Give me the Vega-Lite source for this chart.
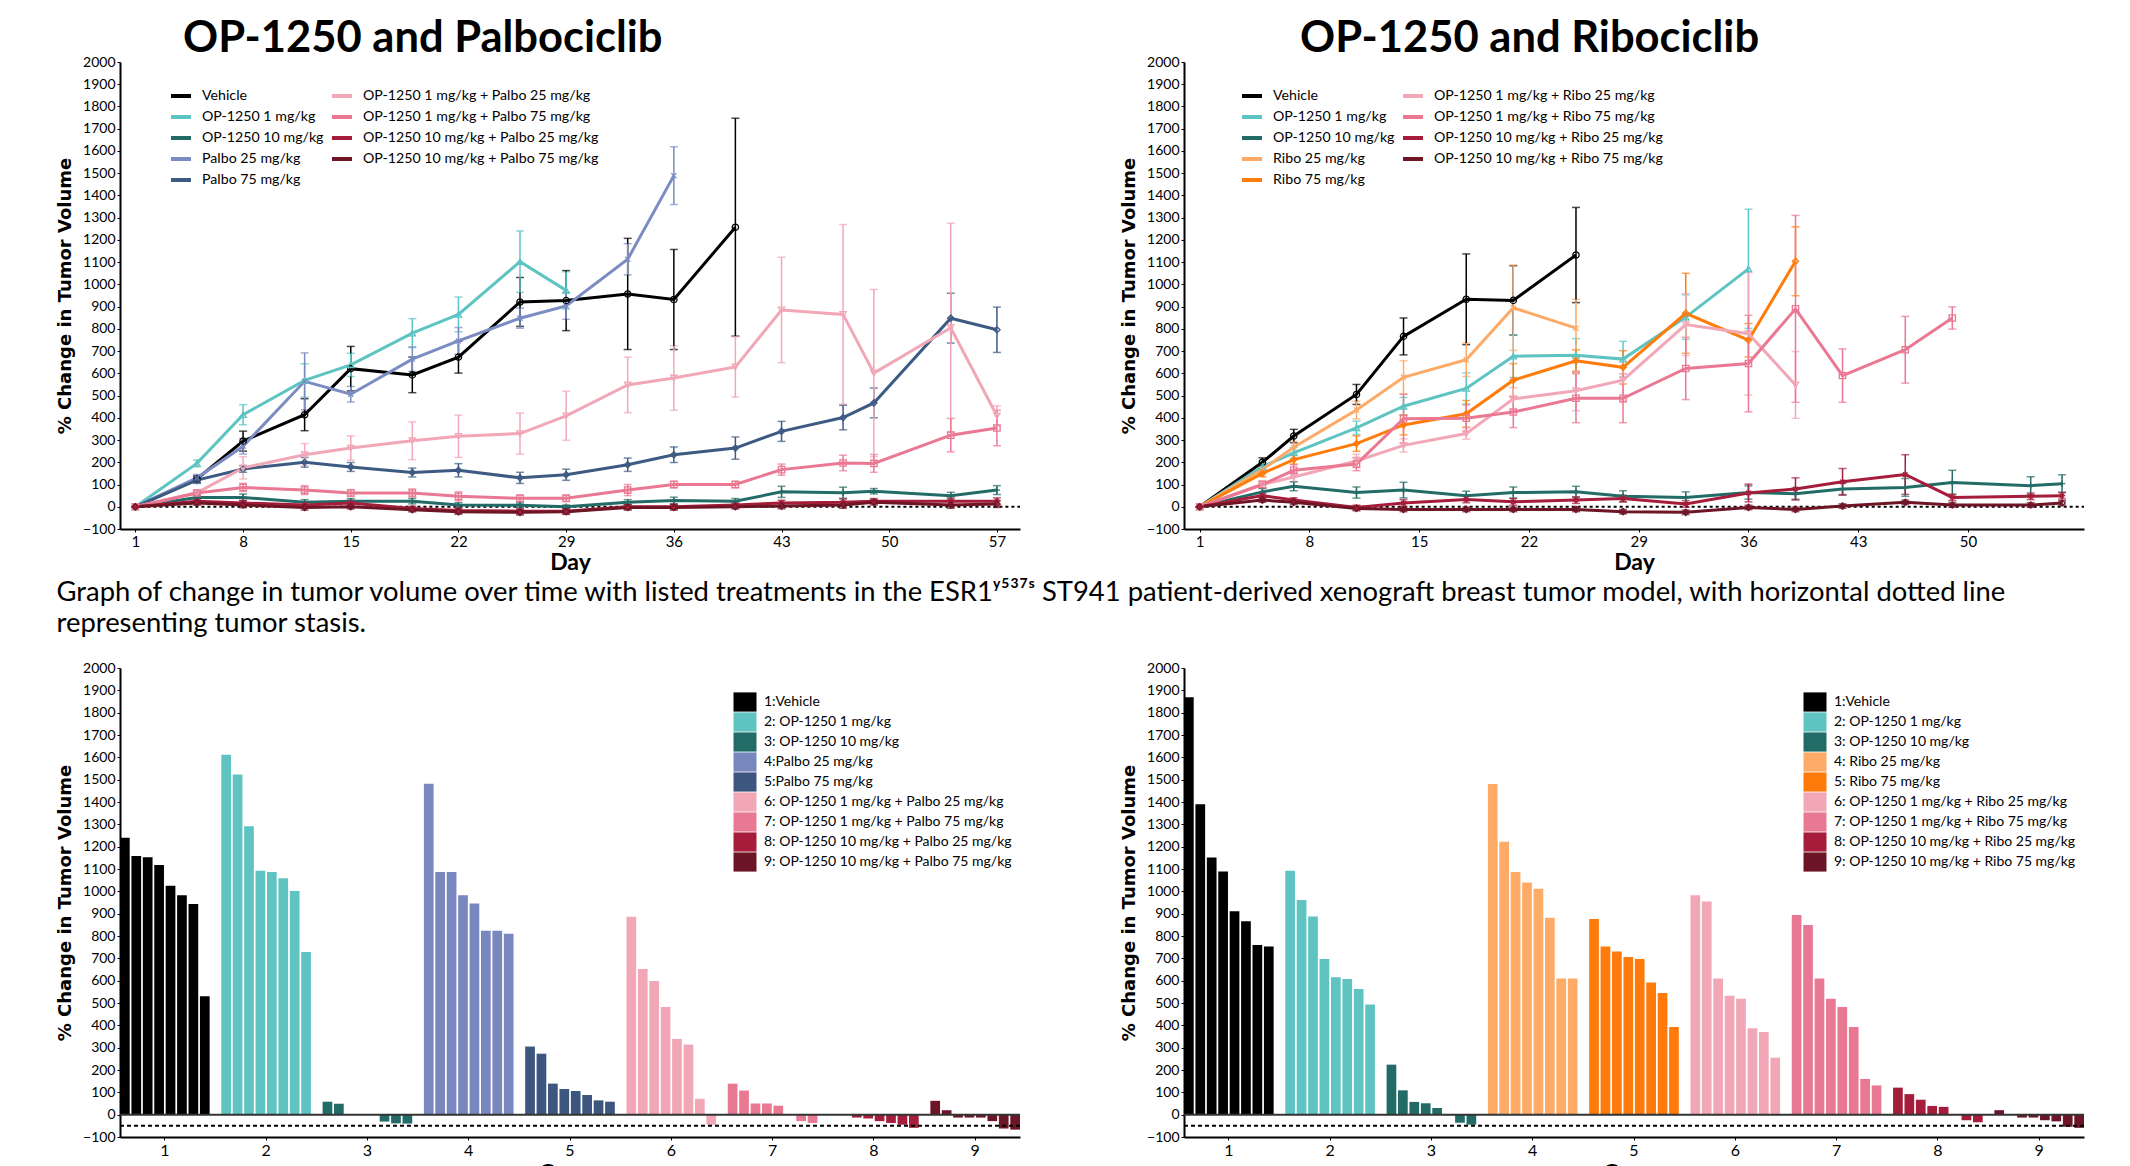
{
  "$schema": "https://vega.github.io/schema/vega-lite/v6.json",
  "background": "white",
  "padding": {"left": 56, "top": 16, "right": 0, "bottom": 0},
  "resolve": {"scale": {"color": "independent", "shape": "independent"}, "legend": {"color": "independent", "shape": "independent"}},
  "config": {
    "view": {"stroke": null},
    "font": "Lato",
    "axis": {"grid": false, "domainColor": "#000", "domainWidth": 2, "tickColor": "#000", "tickSize": 3, "labelFont": "Lato", "labelFontSize": 14, "labelColor": "#000", "titleColor": "#000", "labelOverlap": false},
    "axisY": {"titleFont": "DejaVu Sans", "titleFontSize": 18, "titleFontWeight": "bold", "titlePadding": 8, "labelPadding": 2, "format": "d", "labelOverlap": false, "tickCount": 30},
    "axisX": {"titleFont": "Lato", "titleFontSize": 23, "titleFontWeight": "bold", "titlePadding": 2, "labelPadding": 2, "labelFontSize": 15},
    "legend": {"labelFont": "Lato", "labelColor": "#000", "labelLimit": 400}
  },
  "datasets": {
    "palbo": [
      {"g":"Vehicle","d":1,"v":0,"e":0},{"g":"Vehicle","d":5,"v":125,"e":15},{"g":"Vehicle","d":8,"v":295,"e":45},{"g":"Vehicle","d":12,"v":414,"e":72},{"g":"Vehicle","d":15,"v":621,"e":100},{"g":"Vehicle","d":19,"v":593,"e":80},{"g":"Vehicle","d":22,"v":673,"e":72},{"g":"Vehicle","d":26,"v":921,"e":110},{"g":"Vehicle","d":29,"v":927,"e":135},{"g":"Vehicle","d":33,"v":957,"e":250},{"g":"Vehicle","d":36,"v":932,"e":225},{"g":"Vehicle","d":40,"v":1257,"e":490},
      {"g":"OP-1250 1 mg/kg","d":1,"v":0,"e":0},{"g":"OP-1250 1 mg/kg","d":5,"v":195,"e":15},{"g":"OP-1250 1 mg/kg","d":8,"v":414,"e":45},{"g":"OP-1250 1 mg/kg","d":12,"v":568,"e":75},{"g":"OP-1250 1 mg/kg","d":15,"v":638,"e":52},{"g":"OP-1250 1 mg/kg","d":19,"v":781,"e":65},{"g":"OP-1250 1 mg/kg","d":22,"v":865,"e":78},{"g":"OP-1250 1 mg/kg","d":26,"v":1102,"e":138},{"g":"OP-1250 1 mg/kg","d":29,"v":973,"e":84},
      {"g":"OP-1250 10 mg/kg","d":1,"v":0,"e":0},{"g":"OP-1250 10 mg/kg","d":5,"v":42,"e":12},{"g":"OP-1250 10 mg/kg","d":8,"v":42,"e":15},{"g":"OP-1250 10 mg/kg","d":12,"v":20,"e":12},{"g":"OP-1250 10 mg/kg","d":15,"v":25,"e":12},{"g":"OP-1250 10 mg/kg","d":19,"v":25,"e":12},{"g":"OP-1250 10 mg/kg","d":22,"v":8,"e":10},{"g":"OP-1250 10 mg/kg","d":26,"v":7,"e":10},{"g":"OP-1250 10 mg/kg","d":29,"v":0,"e":8},{"g":"OP-1250 10 mg/kg","d":33,"v":20,"e":12},{"g":"OP-1250 10 mg/kg","d":36,"v":28,"e":15},{"g":"OP-1250 10 mg/kg","d":40,"v":25,"e":12},{"g":"OP-1250 10 mg/kg","d":43,"v":67,"e":25},{"g":"OP-1250 10 mg/kg","d":47,"v":63,"e":25},{"g":"OP-1250 10 mg/kg","d":49,"v":70,"e":12},{"g":"OP-1250 10 mg/kg","d":54,"v":50,"e":15},{"g":"OP-1250 10 mg/kg","d":57,"v":75,"e":20},
      {"g":"Palbo 25 mg/kg","d":1,"v":0,"e":0},{"g":"Palbo 25 mg/kg","d":5,"v":130,"e":15},{"g":"Palbo 25 mg/kg","d":8,"v":272,"e":35},{"g":"Palbo 25 mg/kg","d":12,"v":564,"e":128},{"g":"Palbo 25 mg/kg","d":15,"v":506,"e":35},{"g":"Palbo 25 mg/kg","d":19,"v":664,"e":55},{"g":"Palbo 25 mg/kg","d":22,"v":746,"e":60},{"g":"Palbo 25 mg/kg","d":26,"v":848,"e":45},{"g":"Palbo 25 mg/kg","d":29,"v":903,"e":60},{"g":"Palbo 25 mg/kg","d":33,"v":1113,"e":70},{"g":"Palbo 25 mg/kg","d":36,"v":1489,"e":130},
      {"g":"Palbo 75 mg/kg","d":1,"v":0,"e":0},{"g":"Palbo 75 mg/kg","d":5,"v":120,"e":15},{"g":"Palbo 75 mg/kg","d":8,"v":170,"e":15},{"g":"Palbo 75 mg/kg","d":12,"v":200,"e":22},{"g":"Palbo 75 mg/kg","d":15,"v":179,"e":20},{"g":"Palbo 75 mg/kg","d":19,"v":154,"e":20},{"g":"Palbo 75 mg/kg","d":22,"v":164,"e":30},{"g":"Palbo 75 mg/kg","d":26,"v":130,"e":25},{"g":"Palbo 75 mg/kg","d":29,"v":144,"e":25},{"g":"Palbo 75 mg/kg","d":33,"v":189,"e":30},{"g":"Palbo 75 mg/kg","d":36,"v":234,"e":35},{"g":"Palbo 75 mg/kg","d":40,"v":264,"e":50},{"g":"Palbo 75 mg/kg","d":43,"v":339,"e":45},{"g":"Palbo 75 mg/kg","d":47,"v":401,"e":55},{"g":"Palbo 75 mg/kg","d":49,"v":467,"e":67},{"g":"Palbo 75 mg/kg","d":54,"v":848,"e":112},{"g":"Palbo 75 mg/kg","d":57,"v":796,"e":102},
      {"g":"OP-1250 1 mg/kg + Palbo 25 mg/kg","d":1,"v":0,"e":0},{"g":"OP-1250 1 mg/kg + Palbo 25 mg/kg","d":5,"v":63,"e":12},{"g":"OP-1250 1 mg/kg + Palbo 25 mg/kg","d":8,"v":175,"e":50},{"g":"OP-1250 1 mg/kg + Palbo 25 mg/kg","d":12,"v":234,"e":50},{"g":"OP-1250 1 mg/kg + Palbo 25 mg/kg","d":15,"v":264,"e":55},{"g":"OP-1250 1 mg/kg + Palbo 25 mg/kg","d":19,"v":297,"e":85},{"g":"OP-1250 1 mg/kg + Palbo 25 mg/kg","d":22,"v":317,"e":95},{"g":"OP-1250 1 mg/kg + Palbo 25 mg/kg","d":26,"v":329,"e":92},{"g":"OP-1250 1 mg/kg + Palbo 25 mg/kg","d":29,"v":409,"e":110},{"g":"OP-1250 1 mg/kg + Palbo 25 mg/kg","d":33,"v":548,"e":125},{"g":"OP-1250 1 mg/kg + Palbo 25 mg/kg","d":36,"v":579,"e":145},{"g":"OP-1250 1 mg/kg + Palbo 25 mg/kg","d":40,"v":629,"e":136},{"g":"OP-1250 1 mg/kg + Palbo 25 mg/kg","d":43,"v":885,"e":237},{"g":"OP-1250 1 mg/kg + Palbo 25 mg/kg","d":47,"v":865,"e":404},{"g":"OP-1250 1 mg/kg + Palbo 25 mg/kg","d":49,"v":601,"e":376},{"g":"OP-1250 1 mg/kg + Palbo 25 mg/kg","d":54,"v":805,"e":470},{"g":"OP-1250 1 mg/kg + Palbo 25 mg/kg","d":57,"v":409,"e":45},
      {"g":"OP-1250 1 mg/kg + Palbo 75 mg/kg","d":1,"v":0,"e":0},{"g":"OP-1250 1 mg/kg + Palbo 75 mg/kg","d":5,"v":62,"e":12},{"g":"OP-1250 1 mg/kg + Palbo 75 mg/kg","d":8,"v":87,"e":18},{"g":"OP-1250 1 mg/kg + Palbo 75 mg/kg","d":12,"v":75,"e":20},{"g":"OP-1250 1 mg/kg + Palbo 75 mg/kg","d":15,"v":62,"e":15},{"g":"OP-1250 1 mg/kg + Palbo 75 mg/kg","d":19,"v":62,"e":18},{"g":"OP-1250 1 mg/kg + Palbo 75 mg/kg","d":22,"v":47,"e":20},{"g":"OP-1250 1 mg/kg + Palbo 75 mg/kg","d":26,"v":38,"e":15},{"g":"OP-1250 1 mg/kg + Palbo 75 mg/kg","d":29,"v":38,"e":15},{"g":"OP-1250 1 mg/kg + Palbo 75 mg/kg","d":33,"v":75,"e":25},{"g":"OP-1250 1 mg/kg + Palbo 75 mg/kg","d":36,"v":100,"e":15},{"g":"OP-1250 1 mg/kg + Palbo 75 mg/kg","d":40,"v":100,"e":15},{"g":"OP-1250 1 mg/kg + Palbo 75 mg/kg","d":43,"v":167,"e":25},{"g":"OP-1250 1 mg/kg + Palbo 75 mg/kg","d":47,"v":197,"e":35},{"g":"OP-1250 1 mg/kg + Palbo 75 mg/kg","d":49,"v":195,"e":40},{"g":"OP-1250 1 mg/kg + Palbo 75 mg/kg","d":54,"v":322,"e":75},{"g":"OP-1250 1 mg/kg + Palbo 75 mg/kg","d":57,"v":354,"e":80},
      {"g":"OP-1250 10 mg/kg + Palbo 25 mg/kg","d":1,"v":0,"e":0},{"g":"OP-1250 10 mg/kg + Palbo 25 mg/kg","d":5,"v":25,"e":10},{"g":"OP-1250 10 mg/kg + Palbo 25 mg/kg","d":8,"v":17,"e":12},{"g":"OP-1250 10 mg/kg + Palbo 25 mg/kg","d":12,"v":8,"e":12},{"g":"OP-1250 10 mg/kg + Palbo 25 mg/kg","d":15,"v":17,"e":12},{"g":"OP-1250 10 mg/kg + Palbo 25 mg/kg","d":19,"v":-8,"e":10},{"g":"OP-1250 10 mg/kg + Palbo 25 mg/kg","d":22,"v":-17,"e":12},{"g":"OP-1250 10 mg/kg + Palbo 25 mg/kg","d":26,"v":-20,"e":12},{"g":"OP-1250 10 mg/kg + Palbo 25 mg/kg","d":29,"v":-20,"e":12},{"g":"OP-1250 10 mg/kg + Palbo 25 mg/kg","d":33,"v":0,"e":12},{"g":"OP-1250 10 mg/kg + Palbo 25 mg/kg","d":36,"v":0,"e":12},{"g":"OP-1250 10 mg/kg + Palbo 25 mg/kg","d":40,"v":8,"e":12},{"g":"OP-1250 10 mg/kg + Palbo 25 mg/kg","d":43,"v":17,"e":12},{"g":"OP-1250 10 mg/kg + Palbo 25 mg/kg","d":47,"v":20,"e":15},{"g":"OP-1250 10 mg/kg + Palbo 25 mg/kg","d":49,"v":25,"e":12},{"g":"OP-1250 10 mg/kg + Palbo 25 mg/kg","d":54,"v":25,"e":15},{"g":"OP-1250 10 mg/kg + Palbo 25 mg/kg","d":57,"v":25,"e":15},
      {"g":"OP-1250 10 mg/kg + Palbo 75 mg/kg","d":1,"v":0,"e":0},{"g":"OP-1250 10 mg/kg + Palbo 75 mg/kg","d":5,"v":17,"e":10},{"g":"OP-1250 10 mg/kg + Palbo 75 mg/kg","d":8,"v":8,"e":12},{"g":"OP-1250 10 mg/kg + Palbo 75 mg/kg","d":12,"v":-3,"e":12},{"g":"OP-1250 10 mg/kg + Palbo 75 mg/kg","d":15,"v":0,"e":10},{"g":"OP-1250 10 mg/kg + Palbo 75 mg/kg","d":19,"v":-13,"e":10},{"g":"OP-1250 10 mg/kg + Palbo 75 mg/kg","d":22,"v":-22,"e":12},{"g":"OP-1250 10 mg/kg + Palbo 75 mg/kg","d":26,"v":-25,"e":12},{"g":"OP-1250 10 mg/kg + Palbo 75 mg/kg","d":29,"v":-22,"e":12},{"g":"OP-1250 10 mg/kg + Palbo 75 mg/kg","d":33,"v":-3,"e":12},{"g":"OP-1250 10 mg/kg + Palbo 75 mg/kg","d":36,"v":-3,"e":12},{"g":"OP-1250 10 mg/kg + Palbo 75 mg/kg","d":40,"v":0,"e":10},{"g":"OP-1250 10 mg/kg + Palbo 75 mg/kg","d":43,"v":3,"e":12},{"g":"OP-1250 10 mg/kg + Palbo 75 mg/kg","d":47,"v":8,"e":15},{"g":"OP-1250 10 mg/kg + Palbo 75 mg/kg","d":49,"v":20,"e":12},{"g":"OP-1250 10 mg/kg + Palbo 75 mg/kg","d":54,"v":8,"e":15},{"g":"OP-1250 10 mg/kg + Palbo 75 mg/kg","d":57,"v":12,"e":15}
    ],
    "ribo": [
      {"g":"Vehicle","d":1,"v":0,"e":0},{"g":"Vehicle","d":5,"v":200,"e":20},{"g":"Vehicle","d":7,"v":318,"e":30},{"g":"Vehicle","d":11,"v":505,"e":45},{"g":"Vehicle","d":14,"v":766,"e":83},{"g":"Vehicle","d":18,"v":933,"e":204},{"g":"Vehicle","d":21,"v":928,"e":156},{"g":"Vehicle","d":25,"v":1132,"e":214},
      {"g":"OP-1250 1 mg/kg","d":1,"v":0,"e":0},{"g":"OP-1250 1 mg/kg","d":5,"v":180,"e":20},{"g":"OP-1250 1 mg/kg","d":7,"v":242,"e":25},{"g":"OP-1250 1 mg/kg","d":11,"v":355,"e":30},{"g":"OP-1250 1 mg/kg","d":14,"v":452,"e":40},{"g":"OP-1250 1 mg/kg","d":18,"v":532,"e":70},{"g":"OP-1250 1 mg/kg","d":21,"v":677,"e":95},{"g":"OP-1250 1 mg/kg","d":25,"v":681,"e":75},{"g":"OP-1250 1 mg/kg","d":28,"v":664,"e":80},{"g":"OP-1250 1 mg/kg","d":32,"v":853,"e":100},{"g":"OP-1250 1 mg/kg","d":36,"v":1070,"e":268},
      {"g":"OP-1250 10 mg/kg","d":1,"v":0,"e":0},{"g":"OP-1250 10 mg/kg","d":5,"v":67,"e":15},{"g":"OP-1250 10 mg/kg","d":7,"v":92,"e":20},{"g":"OP-1250 10 mg/kg","d":11,"v":64,"e":25},{"g":"OP-1250 10 mg/kg","d":14,"v":75,"e":35},{"g":"OP-1250 10 mg/kg","d":18,"v":50,"e":20},{"g":"OP-1250 10 mg/kg","d":21,"v":64,"e":25},{"g":"OP-1250 10 mg/kg","d":25,"v":67,"e":25},{"g":"OP-1250 10 mg/kg","d":28,"v":47,"e":25},{"g":"OP-1250 10 mg/kg","d":32,"v":42,"e":25},{"g":"OP-1250 10 mg/kg","d":36,"v":64,"e":30},{"g":"OP-1250 10 mg/kg","d":39,"v":59,"e":25},{"g":"OP-1250 10 mg/kg","d":42,"v":80,"e":25},{"g":"OP-1250 10 mg/kg","d":46,"v":87,"e":40},{"g":"OP-1250 10 mg/kg","d":49,"v":109,"e":55},{"g":"OP-1250 10 mg/kg","d":54,"v":95,"e":40},{"g":"OP-1250 10 mg/kg","d":56,"v":104,"e":40},
      {"g":"Ribo 25 mg/kg","d":1,"v":0,"e":0},{"g":"Ribo 25 mg/kg","d":5,"v":167,"e":15},{"g":"Ribo 25 mg/kg","d":7,"v":268,"e":25},{"g":"Ribo 25 mg/kg","d":11,"v":435,"e":40},{"g":"Ribo 25 mg/kg","d":14,"v":582,"e":75},{"g":"Ribo 25 mg/kg","d":18,"v":661,"e":75},{"g":"Ribo 25 mg/kg","d":21,"v":895,"e":192},{"g":"Ribo 25 mg/kg","d":25,"v":803,"e":130},
      {"g":"Ribo 75 mg/kg","d":1,"v":0,"e":0},{"g":"Ribo 75 mg/kg","d":5,"v":150,"e":15},{"g":"Ribo 75 mg/kg","d":7,"v":212,"e":20},{"g":"Ribo 75 mg/kg","d":11,"v":284,"e":35},{"g":"Ribo 75 mg/kg","d":14,"v":368,"e":45},{"g":"Ribo 75 mg/kg","d":18,"v":418,"e":60},{"g":"Ribo 75 mg/kg","d":21,"v":569,"e":75},{"g":"Ribo 75 mg/kg","d":25,"v":656,"e":50},{"g":"Ribo 75 mg/kg","d":28,"v":627,"e":75},{"g":"Ribo 75 mg/kg","d":32,"v":870,"e":180},{"g":"Ribo 75 mg/kg","d":36,"v":749,"e":75},{"g":"Ribo 75 mg/kg","d":39,"v":1104,"e":155},
      {"g":"OP-1250 1 mg/kg + Ribo 25 mg/kg","d":1,"v":0,"e":0},{"g":"OP-1250 1 mg/kg + Ribo 25 mg/kg","d":5,"v":100,"e":15},{"g":"OP-1250 1 mg/kg + Ribo 25 mg/kg","d":7,"v":134,"e":20},{"g":"OP-1250 1 mg/kg + Ribo 25 mg/kg","d":11,"v":206,"e":30},{"g":"OP-1250 1 mg/kg + Ribo 25 mg/kg","d":14,"v":276,"e":30},{"g":"OP-1250 1 mg/kg + Ribo 25 mg/kg","d":18,"v":329,"e":25},{"g":"OP-1250 1 mg/kg + Ribo 25 mg/kg","d":21,"v":485,"e":50},{"g":"OP-1250 1 mg/kg + Ribo 25 mg/kg","d":25,"v":522,"e":90},{"g":"OP-1250 1 mg/kg + Ribo 25 mg/kg","d":28,"v":569,"e":100},{"g":"OP-1250 1 mg/kg + Ribo 25 mg/kg","d":32,"v":819,"e":139},{"g":"OP-1250 1 mg/kg + Ribo 25 mg/kg","d":36,"v":778,"e":276},{"g":"OP-1250 1 mg/kg + Ribo 25 mg/kg","d":39,"v":548,"e":150},
      {"g":"OP-1250 1 mg/kg + Ribo 75 mg/kg","d":1,"v":0,"e":0},{"g":"OP-1250 1 mg/kg + Ribo 75 mg/kg","d":5,"v":100,"e":15},{"g":"OP-1250 1 mg/kg + Ribo 75 mg/kg","d":7,"v":164,"e":25},{"g":"OP-1250 1 mg/kg + Ribo 75 mg/kg","d":11,"v":192,"e":30},{"g":"OP-1250 1 mg/kg + Ribo 75 mg/kg","d":14,"v":396,"e":110},{"g":"OP-1250 1 mg/kg + Ribo 75 mg/kg","d":18,"v":398,"e":60},{"g":"OP-1250 1 mg/kg + Ribo 75 mg/kg","d":21,"v":426,"e":70},{"g":"OP-1250 1 mg/kg + Ribo 75 mg/kg","d":25,"v":488,"e":110},{"g":"OP-1250 1 mg/kg + Ribo 75 mg/kg","d":28,"v":488,"e":110},{"g":"OP-1250 1 mg/kg + Ribo 75 mg/kg","d":32,"v":622,"e":140},{"g":"OP-1250 1 mg/kg + Ribo 75 mg/kg","d":36,"v":644,"e":217},{"g":"OP-1250 1 mg/kg + Ribo 75 mg/kg","d":39,"v":890,"e":420},{"g":"OP-1250 1 mg/kg + Ribo 75 mg/kg","d":42,"v":590,"e":120},{"g":"OP-1250 1 mg/kg + Ribo 75 mg/kg","d":46,"v":706,"e":150},{"g":"OP-1250 1 mg/kg + Ribo 75 mg/kg","d":49,"v":849,"e":50},
      {"g":"OP-1250 10 mg/kg + Ribo 25 mg/kg","d":1,"v":0,"e":0},{"g":"OP-1250 10 mg/kg + Ribo 25 mg/kg","d":5,"v":50,"e":10},{"g":"OP-1250 10 mg/kg + Ribo 25 mg/kg","d":7,"v":30,"e":10},{"g":"OP-1250 10 mg/kg + Ribo 25 mg/kg","d":11,"v":-3,"e":10},{"g":"OP-1250 10 mg/kg + Ribo 25 mg/kg","d":14,"v":17,"e":15},{"g":"OP-1250 10 mg/kg + Ribo 25 mg/kg","d":18,"v":33,"e":15},{"g":"OP-1250 10 mg/kg + Ribo 25 mg/kg","d":21,"v":22,"e":15},{"g":"OP-1250 10 mg/kg + Ribo 25 mg/kg","d":25,"v":30,"e":15},{"g":"OP-1250 10 mg/kg + Ribo 25 mg/kg","d":28,"v":37,"e":15},{"g":"OP-1250 10 mg/kg + Ribo 25 mg/kg","d":32,"v":13,"e":15},{"g":"OP-1250 10 mg/kg + Ribo 25 mg/kg","d":36,"v":62,"e":40},{"g":"OP-1250 10 mg/kg + Ribo 25 mg/kg","d":39,"v":80,"e":50},{"g":"OP-1250 10 mg/kg + Ribo 25 mg/kg","d":42,"v":112,"e":60},{"g":"OP-1250 10 mg/kg + Ribo 25 mg/kg","d":46,"v":145,"e":89},{"g":"OP-1250 10 mg/kg + Ribo 25 mg/kg","d":49,"v":42,"e":15},{"g":"OP-1250 10 mg/kg + Ribo 25 mg/kg","d":54,"v":47,"e":15},{"g":"OP-1250 10 mg/kg + Ribo 25 mg/kg","d":56,"v":50,"e":15},
      {"g":"OP-1250 10 mg/kg + Ribo 75 mg/kg","d":1,"v":0,"e":0},{"g":"OP-1250 10 mg/kg + Ribo 75 mg/kg","d":5,"v":30,"e":10},{"g":"OP-1250 10 mg/kg + Ribo 75 mg/kg","d":7,"v":20,"e":10},{"g":"OP-1250 10 mg/kg + Ribo 75 mg/kg","d":11,"v":-8,"e":10},{"g":"OP-1250 10 mg/kg + Ribo 75 mg/kg","d":14,"v":-12,"e":10},{"g":"OP-1250 10 mg/kg + Ribo 75 mg/kg","d":18,"v":-12,"e":10},{"g":"OP-1250 10 mg/kg + Ribo 75 mg/kg","d":21,"v":-12,"e":10},{"g":"OP-1250 10 mg/kg + Ribo 75 mg/kg","d":25,"v":-12,"e":10},{"g":"OP-1250 10 mg/kg + Ribo 75 mg/kg","d":28,"v":-22,"e":10},{"g":"OP-1250 10 mg/kg + Ribo 75 mg/kg","d":32,"v":-25,"e":10},{"g":"OP-1250 10 mg/kg + Ribo 75 mg/kg","d":36,"v":-3,"e":10},{"g":"OP-1250 10 mg/kg + Ribo 75 mg/kg","d":39,"v":-12,"e":10},{"g":"OP-1250 10 mg/kg + Ribo 75 mg/kg","d":42,"v":3,"e":10},{"g":"OP-1250 10 mg/kg + Ribo 75 mg/kg","d":46,"v":20,"e":10},{"g":"OP-1250 10 mg/kg + Ribo 75 mg/kg","d":49,"v":8,"e":10},{"g":"OP-1250 10 mg/kg + Ribo 75 mg/kg","d":54,"v":8,"e":10},{"g":"OP-1250 10 mg/kg + Ribo 75 mg/kg","d":56,"v":17,"e":10}
    ],
    "palboBars": [
      {"grp":"1","lab":"1:Vehicle","k":1,"v":1240},{"grp":"1","lab":"1:Vehicle","k":2,"v":1158},{"grp":"1","lab":"1:Vehicle","k":3,"v":1153},{"grp":"1","lab":"1:Vehicle","k":4,"v":1118},{"grp":"1","lab":"1:Vehicle","k":5,"v":1025},{"grp":"1","lab":"1:Vehicle","k":6,"v":982},{"grp":"1","lab":"1:Vehicle","k":7,"v":943},{"grp":"1","lab":"1:Vehicle","k":8,"v":530},
      {"grp":"2","lab":"2: OP-1250 1 mg/kg","k":1,"v":1612},{"grp":"2","lab":"2: OP-1250 1 mg/kg","k":2,"v":1523},{"grp":"2","lab":"2: OP-1250 1 mg/kg","k":3,"v":1291},{"grp":"2","lab":"2: OP-1250 1 mg/kg","k":4,"v":1092},{"grp":"2","lab":"2: OP-1250 1 mg/kg","k":5,"v":1087},{"grp":"2","lab":"2: OP-1250 1 mg/kg","k":6,"v":1059},{"grp":"2","lab":"2: OP-1250 1 mg/kg","k":7,"v":1002},{"grp":"2","lab":"2: OP-1250 1 mg/kg","k":8,"v":728},
      {"grp":"3","lab":"3: OP-1250 10 mg/kg","k":1,"v":58},{"grp":"3","lab":"3: OP-1250 10 mg/kg","k":2,"v":49},{"grp":"3","lab":"3: OP-1250 10 mg/kg","k":3,"v":2},{"grp":"3","lab":"3: OP-1250 10 mg/kg","k":4,"v":2},{"grp":"3","lab":"3: OP-1250 10 mg/kg","k":5,"v":1},{"grp":"3","lab":"3: OP-1250 10 mg/kg","k":6,"v":-31},{"grp":"3","lab":"3: OP-1250 10 mg/kg","k":7,"v":-39},{"grp":"3","lab":"3: OP-1250 10 mg/kg","k":8,"v":-40},
      {"grp":"4","lab":"4:Palbo 25 mg/kg","k":1,"v":1482},{"grp":"4","lab":"4:Palbo 25 mg/kg","k":2,"v":1087},{"grp":"4","lab":"4:Palbo 25 mg/kg","k":3,"v":1087},{"grp":"4","lab":"4:Palbo 25 mg/kg","k":4,"v":982},{"grp":"4","lab":"4:Palbo 25 mg/kg","k":5,"v":945},{"grp":"4","lab":"4:Palbo 25 mg/kg","k":6,"v":823},{"grp":"4","lab":"4:Palbo 25 mg/kg","k":7,"v":823},{"grp":"4","lab":"4:Palbo 25 mg/kg","k":8,"v":810},
      {"grp":"5","lab":"5:Palbo 75 mg/kg","k":1,"v":305},{"grp":"5","lab":"5:Palbo 75 mg/kg","k":2,"v":273},{"grp":"5","lab":"5:Palbo 75 mg/kg","k":3,"v":139},{"grp":"5","lab":"5:Palbo 75 mg/kg","k":4,"v":115},{"grp":"5","lab":"5:Palbo 75 mg/kg","k":5,"v":106},{"grp":"5","lab":"5:Palbo 75 mg/kg","k":6,"v":88},{"grp":"5","lab":"5:Palbo 75 mg/kg","k":7,"v":64},{"grp":"5","lab":"5:Palbo 75 mg/kg","k":8,"v":58},
      {"grp":"6","lab":"6: OP-1250 1 mg/kg + Palbo 25 mg/kg","k":1,"v":886},{"grp":"6","lab":"6: OP-1250 1 mg/kg + Palbo 25 mg/kg","k":2,"v":652},{"grp":"6","lab":"6: OP-1250 1 mg/kg + Palbo 25 mg/kg","k":3,"v":598},{"grp":"6","lab":"6: OP-1250 1 mg/kg + Palbo 25 mg/kg","k":4,"v":482},{"grp":"6","lab":"6: OP-1250 1 mg/kg + Palbo 25 mg/kg","k":5,"v":339},{"grp":"6","lab":"6: OP-1250 1 mg/kg + Palbo 25 mg/kg","k":6,"v":314},{"grp":"6","lab":"6: OP-1250 1 mg/kg + Palbo 25 mg/kg","k":7,"v":71},{"grp":"6","lab":"6: OP-1250 1 mg/kg + Palbo 25 mg/kg","k":8,"v":-45},
      {"grp":"7","lab":"7: OP-1250 1 mg/kg + Palbo 75 mg/kg","k":1,"v":139},{"grp":"7","lab":"7: OP-1250 1 mg/kg + Palbo 75 mg/kg","k":2,"v":108},{"grp":"7","lab":"7: OP-1250 1 mg/kg + Palbo 75 mg/kg","k":3,"v":50},{"grp":"7","lab":"7: OP-1250 1 mg/kg + Palbo 75 mg/kg","k":4,"v":50},{"grp":"7","lab":"7: OP-1250 1 mg/kg + Palbo 75 mg/kg","k":5,"v":40},{"grp":"7","lab":"7: OP-1250 1 mg/kg + Palbo 75 mg/kg","k":6,"v":3},{"grp":"7","lab":"7: OP-1250 1 mg/kg + Palbo 75 mg/kg","k":7,"v":-29},{"grp":"7","lab":"7: OP-1250 1 mg/kg + Palbo 75 mg/kg","k":8,"v":-37},
      {"grp":"8","lab":"8: OP-1250 10 mg/kg + Palbo 25 mg/kg","k":1,"v":3},{"grp":"8","lab":"8: OP-1250 10 mg/kg + Palbo 25 mg/kg","k":2,"v":2},{"grp":"8","lab":"8: OP-1250 10 mg/kg + Palbo 25 mg/kg","k":3,"v":-13},{"grp":"8","lab":"8: OP-1250 10 mg/kg + Palbo 25 mg/kg","k":4,"v":-17},{"grp":"8","lab":"8: OP-1250 10 mg/kg + Palbo 25 mg/kg","k":5,"v":-29},{"grp":"8","lab":"8: OP-1250 10 mg/kg + Palbo 25 mg/kg","k":6,"v":-37},{"grp":"8","lab":"8: OP-1250 10 mg/kg + Palbo 25 mg/kg","k":7,"v":-45},{"grp":"8","lab":"8: OP-1250 10 mg/kg + Palbo 25 mg/kg","k":8,"v":-59},
      {"grp":"9","lab":"9: OP-1250 10 mg/kg + Palbo 75 mg/kg","k":1,"v":62},{"grp":"9","lab":"9: OP-1250 10 mg/kg + Palbo 75 mg/kg","k":2,"v":20},{"grp":"9","lab":"9: OP-1250 10 mg/kg + Palbo 75 mg/kg","k":3,"v":-13},{"grp":"9","lab":"9: OP-1250 10 mg/kg + Palbo 75 mg/kg","k":4,"v":-13},{"grp":"9","lab":"9: OP-1250 10 mg/kg + Palbo 75 mg/kg","k":5,"v":-13},{"grp":"9","lab":"9: OP-1250 10 mg/kg + Palbo 75 mg/kg","k":6,"v":-29},{"grp":"9","lab":"9: OP-1250 10 mg/kg + Palbo 75 mg/kg","k":7,"v":-62},{"grp":"9","lab":"9: OP-1250 10 mg/kg + Palbo 75 mg/kg","k":8,"v":-67}
    ],
    "riboBars": [
      {"grp":"1","lab":"1:Vehicle","k":1,"v":1869},{"grp":"1","lab":"1:Vehicle","k":2,"v":1390},{"grp":"1","lab":"1:Vehicle","k":3,"v":1151},{"grp":"1","lab":"1:Vehicle","k":4,"v":1089},{"grp":"1","lab":"1:Vehicle","k":5,"v":911},{"grp":"1","lab":"1:Vehicle","k":6,"v":866},{"grp":"1","lab":"1:Vehicle","k":7,"v":760},{"grp":"1","lab":"1:Vehicle","k":8,"v":753},
      {"grp":"2","lab":"2: OP-1250 1 mg/kg","k":1,"v":1092},{"grp":"2","lab":"2: OP-1250 1 mg/kg","k":2,"v":961},{"grp":"2","lab":"2: OP-1250 1 mg/kg","k":3,"v":887},{"grp":"2","lab":"2: OP-1250 1 mg/kg","k":4,"v":697},{"grp":"2","lab":"2: OP-1250 1 mg/kg","k":5,"v":615},{"grp":"2","lab":"2: OP-1250 1 mg/kg","k":6,"v":607},{"grp":"2","lab":"2: OP-1250 1 mg/kg","k":7,"v":563},{"grp":"2","lab":"2: OP-1250 1 mg/kg","k":8,"v":493},
      {"grp":"3","lab":"3: OP-1250 10 mg/kg","k":1,"v":224},{"grp":"3","lab":"3: OP-1250 10 mg/kg","k":2,"v":109},{"grp":"3","lab":"3: OP-1250 10 mg/kg","k":3,"v":57},{"grp":"3","lab":"3: OP-1250 10 mg/kg","k":4,"v":51},{"grp":"3","lab":"3: OP-1250 10 mg/kg","k":5,"v":30},{"grp":"3","lab":"3: OP-1250 10 mg/kg","k":6,"v":-2},{"grp":"3","lab":"3: OP-1250 10 mg/kg","k":7,"v":-36},{"grp":"3","lab":"3: OP-1250 10 mg/kg","k":8,"v":-45},
      {"grp":"4","lab":"4: Ribo 25 mg/kg","k":1,"v":1481},{"grp":"4","lab":"4: Ribo 25 mg/kg","k":2,"v":1222},{"grp":"4","lab":"4: Ribo 25 mg/kg","k":3,"v":1087},{"grp":"4","lab":"4: Ribo 25 mg/kg","k":4,"v":1040},{"grp":"4","lab":"4: Ribo 25 mg/kg","k":5,"v":1012},{"grp":"4","lab":"4: Ribo 25 mg/kg","k":6,"v":882},{"grp":"4","lab":"4: Ribo 25 mg/kg","k":7,"v":610},{"grp":"4","lab":"4: Ribo 25 mg/kg","k":8,"v":610},
      {"grp":"5","lab":"5: Ribo 75 mg/kg","k":1,"v":876},{"grp":"5","lab":"5: Ribo 75 mg/kg","k":2,"v":753},{"grp":"5","lab":"5: Ribo 75 mg/kg","k":3,"v":731},{"grp":"5","lab":"5: Ribo 75 mg/kg","k":4,"v":706},{"grp":"5","lab":"5: Ribo 75 mg/kg","k":5,"v":697},{"grp":"5","lab":"5: Ribo 75 mg/kg","k":6,"v":592},{"grp":"5","lab":"5: Ribo 75 mg/kg","k":7,"v":545},{"grp":"5","lab":"5: Ribo 75 mg/kg","k":8,"v":393},
      {"grp":"6","lab":"6: OP-1250 1 mg/kg + Ribo 25 mg/kg","k":1,"v":982},{"grp":"6","lab":"6: OP-1250 1 mg/kg + Ribo 25 mg/kg","k":2,"v":955},{"grp":"6","lab":"6: OP-1250 1 mg/kg + Ribo 25 mg/kg","k":3,"v":610},{"grp":"6","lab":"6: OP-1250 1 mg/kg + Ribo 25 mg/kg","k":4,"v":533},{"grp":"6","lab":"6: OP-1250 1 mg/kg + Ribo 25 mg/kg","k":5,"v":519},{"grp":"6","lab":"6: OP-1250 1 mg/kg + Ribo 25 mg/kg","k":6,"v":387},{"grp":"6","lab":"6: OP-1250 1 mg/kg + Ribo 25 mg/kg","k":7,"v":370},{"grp":"6","lab":"6: OP-1250 1 mg/kg + Ribo 25 mg/kg","k":8,"v":255},
      {"grp":"7","lab":"7: OP-1250 1 mg/kg + Ribo 75 mg/kg","k":1,"v":894},{"grp":"7","lab":"7: OP-1250 1 mg/kg + Ribo 75 mg/kg","k":2,"v":849},{"grp":"7","lab":"7: OP-1250 1 mg/kg + Ribo 75 mg/kg","k":3,"v":610},{"grp":"7","lab":"7: OP-1250 1 mg/kg + Ribo 75 mg/kg","k":4,"v":519},{"grp":"7","lab":"7: OP-1250 1 mg/kg + Ribo 75 mg/kg","k":5,"v":482},{"grp":"7","lab":"7: OP-1250 1 mg/kg + Ribo 75 mg/kg","k":6,"v":392},{"grp":"7","lab":"7: OP-1250 1 mg/kg + Ribo 75 mg/kg","k":7,"v":160},{"grp":"7","lab":"7: OP-1250 1 mg/kg + Ribo 75 mg/kg","k":8,"v":131},
      {"grp":"8","lab":"8: OP-1250 10 mg/kg + Ribo 25 mg/kg","k":1,"v":121},{"grp":"8","lab":"8: OP-1250 10 mg/kg + Ribo 25 mg/kg","k":2,"v":92},{"grp":"8","lab":"8: OP-1250 10 mg/kg + Ribo 25 mg/kg","k":3,"v":67},{"grp":"8","lab":"8: OP-1250 10 mg/kg + Ribo 25 mg/kg","k":4,"v":39},{"grp":"8","lab":"8: OP-1250 10 mg/kg + Ribo 25 mg/kg","k":5,"v":35},{"grp":"8","lab":"8: OP-1250 10 mg/kg + Ribo 25 mg/kg","k":6,"v":3},{"grp":"8","lab":"8: OP-1250 10 mg/kg + Ribo 25 mg/kg","k":7,"v":-25},{"grp":"8","lab":"8: OP-1250 10 mg/kg + Ribo 25 mg/kg","k":8,"v":-34},
      {"grp":"9","lab":"9: OP-1250 10 mg/kg + Ribo 75 mg/kg","k":1,"v":20},{"grp":"9","lab":"9: OP-1250 10 mg/kg + Ribo 75 mg/kg","k":2,"v":3},{"grp":"9","lab":"9: OP-1250 10 mg/kg + Ribo 75 mg/kg","k":3,"v":-13},{"grp":"9","lab":"9: OP-1250 10 mg/kg + Ribo 75 mg/kg","k":4,"v":-13},{"grp":"9","lab":"9: OP-1250 10 mg/kg + Ribo 75 mg/kg","k":5,"v":-25},{"grp":"9","lab":"9: OP-1250 10 mg/kg + Ribo 75 mg/kg","k":6,"v":-30},{"grp":"9","lab":"9: OP-1250 10 mg/kg + Ribo 75 mg/kg","k":7,"v":-54},{"grp":"9","lab":"9: OP-1250 10 mg/kg + Ribo 75 mg/kg","k":8,"v":-59}
    ]
  },
  "vconcat": [
    {
      "resolve": {"scale": {"color": "independent", "shape": "independent"}, "legend": {"color": "independent", "shape": "independent"}},
      "hconcat": [
        {
          "width": 900, "height": 467,
          "title": {"text": "OP-1250 and Palbociclib", "anchor": "start", "frame": "group", "dx": 63, "fontSize": 43.5, "font": "Lato", "fontWeight": "bold", "color": "#000", "offset": -40, "baseline": "alphabetic"},
          "resolve": {"legend": {"color": "independent", "shape": "independent"}},
          "layer": [
            {"data": {"values": [{}]}, "mark": {"type": "rule", "strokeDash": [3, 3], "strokeWidth": 2, "color": "#000"}, "encoding": {"y": {"datum": 0}, "x": {"datum": 1}, "x2": {"datum": 58.5}}},
            {
              "data": {"name": "palbo"},
              "resolve": {"legend": {"color": "independent", "shape": "independent"}},
              "encoding": {
                "x": {"field": "d", "type": "quantitative", "scale": {"domain": [0, 58.5], "nice": false, "zero": false}, "axis": {"values": [1, 8, 15, 22, 29, 36, 43, 50, 57], "title": "Day"}},
                "y": {"field": "v", "type": "quantitative", "scale": {"domain": [-100, 2000], "nice": false, "zero": false}, "axis": {"values": [-100, 0, 100, 200, 300, 400, 500, 600, 700, 800, 900, 1000, 1100, 1200, 1300, 1400, 1500, 1600, 1700, 1800, 1900, 2000], "tickCount": 30, "labelOverlap": false, "format": "d", "title": "% Change in Tumor Volume"}}
              },
              "layer": [
                {"mark": {"type": "errorbar", "thickness": 1.5, "ticks": {"size": 8, "thickness": 1.5}},
                 "encoding": {"yError": {"field": "e"},
                   "color": {"field": "g", "type": "nominal", "legend": null,
                     "scale": {"domain": ["Vehicle", "OP-1250 1 mg/kg", "OP-1250 10 mg/kg", "Palbo 25 mg/kg", "Palbo 75 mg/kg", "OP-1250 1 mg/kg + Palbo 25 mg/kg", "OP-1250 1 mg/kg + Palbo 75 mg/kg", "OP-1250 10 mg/kg + Palbo 25 mg/kg", "OP-1250 10 mg/kg + Palbo 75 mg/kg"],
                               "range": ["#000000", "#5ec4c2", "#236b66", "#7a8cc2", "#3d5a82", "#f2a7b7", "#ea7892", "#a61d3b", "#6e1526"]}}}},
                {"mark": {"type": "line", "strokeWidth": 3},
                 "encoding": {
                   "color": {"field": "g", "type": "nominal",
                     "scale": {"domain": ["Vehicle", "OP-1250 1 mg/kg", "OP-1250 10 mg/kg", "Palbo 25 mg/kg", "Palbo 75 mg/kg", "OP-1250 1 mg/kg + Palbo 25 mg/kg", "OP-1250 1 mg/kg + Palbo 75 mg/kg", "OP-1250 10 mg/kg + Palbo 25 mg/kg", "OP-1250 10 mg/kg + Palbo 75 mg/kg"],
                               "range": ["#000000", "#5ec4c2", "#236b66", "#7a8cc2", "#3d5a82", "#f2a7b7", "#ea7892", "#a61d3b", "#6e1526"]},
                     "legend": {"orient": "none", "legendX": 49, "legendY": 22, "columns": 2, "columnPadding": 0, "rowPadding": 1, "title": null, "symbolType": "stroke", "symbolSize": 400, "symbolStrokeWidth": 4, "labelFontSize": 14.2, "labelOffset": 9}}}},
                {"mark": {"type": "point", "filled": false, "size": 40, "strokeWidth": 1.3, "opacity": 1},
                 "encoding": {
                   "color": {"field": "g", "type": "nominal", "legend": null,
                     "scale": {"domain": ["Vehicle", "OP-1250 1 mg/kg", "OP-1250 10 mg/kg", "Palbo 25 mg/kg", "Palbo 75 mg/kg", "OP-1250 1 mg/kg + Palbo 25 mg/kg", "OP-1250 1 mg/kg + Palbo 75 mg/kg", "OP-1250 10 mg/kg + Palbo 25 mg/kg", "OP-1250 10 mg/kg + Palbo 75 mg/kg"],
                               "range": ["#000000", "#5ec4c2", "#236b66", "#7a8cc2", "#3d5a82", "#f2a7b7", "#ea7892", "#a61d3b", "#6e1526"]}},
                   "shape": {"field": "g", "type": "nominal", "legend": null,
                   "scale": {"domain": ["Vehicle", "OP-1250 1 mg/kg", "OP-1250 10 mg/kg", "Palbo 25 mg/kg", "Palbo 75 mg/kg", "OP-1250 1 mg/kg + Palbo 25 mg/kg", "OP-1250 1 mg/kg + Palbo 75 mg/kg", "OP-1250 10 mg/kg + Palbo 25 mg/kg", "OP-1250 10 mg/kg + Palbo 75 mg/kg"],
                             "range": ["circle", "triangle-up", "M-1,0H1M0,-1V1", "M-0.8,-0.8L0.8,0.8M-0.8,0.8L0.8,-0.8", "diamond", "triangle-down", "square", "M-1,0H1M0,-1V1M-0.7,-0.7L0.7,0.7M-0.7,0.7L0.7,-0.7", "diamond"]}}}}
              ]
            }
          ]
        },
        {
          "width": 900, "height": 467,
          "title": {"text": "OP-1250 and Ribociclib", "anchor": "start", "frame": "group", "dx": 116, "fontSize": 43.5, "font": "Lato", "fontWeight": "bold", "color": "#000", "offset": -40, "baseline": "alphabetic"},
          "resolve": {"legend": {"color": "independent", "shape": "independent"}},
          "layer": [
            {"data": {"values": [{}]}, "mark": {"type": "rule", "strokeDash": [3, 3], "strokeWidth": 2, "color": "#000"}, "encoding": {"y": {"datum": 0}, "x": {"datum": 1}, "x2": {"datum": 57.4}}},
            {
              "data": {"name": "ribo"},
              "resolve": {"legend": {"color": "independent", "shape": "independent"}},
              "encoding": {
                "x": {"field": "d", "type": "quantitative", "scale": {"domain": [0, 57.4], "nice": false, "zero": false}, "axis": {"values": [1, 8, 15, 22, 29, 36, 43, 50], "title": "Day"}},
                "y": {"field": "v", "type": "quantitative", "scale": {"domain": [-100, 2000], "nice": false, "zero": false}, "axis": {"values": [-100, 0, 100, 200, 300, 400, 500, 600, 700, 800, 900, 1000, 1100, 1200, 1300, 1400, 1500, 1600, 1700, 1800, 1900, 2000], "tickCount": 30, "labelOverlap": false, "format": "d", "title": "% Change in Tumor Volume"}}
              },
              "layer": [
                {"mark": {"type": "errorbar", "thickness": 1.5, "ticks": {"size": 8, "thickness": 1.5}},
                 "encoding": {"yError": {"field": "e"},
                   "color": {"field": "g", "type": "nominal", "legend": null,
                     "scale": {"domain": ["Vehicle", "OP-1250 1 mg/kg", "OP-1250 10 mg/kg", "Ribo 25 mg/kg", "Ribo 75 mg/kg", "OP-1250 1 mg/kg + Ribo 25 mg/kg", "OP-1250 1 mg/kg + Ribo 75 mg/kg", "OP-1250 10 mg/kg + Ribo 25 mg/kg", "OP-1250 10 mg/kg + Ribo 75 mg/kg"],
                               "range": ["#000000", "#5ec4c2", "#236b66", "#fdaa66", "#ff7c0b", "#f2a7b7", "#ea7892", "#a61d3b", "#6e1526"]}}}},
                {"mark": {"type": "line", "strokeWidth": 3},
                 "encoding": {
                   "color": {"field": "g", "type": "nominal",
                     "scale": {"domain": ["Vehicle", "OP-1250 1 mg/kg", "OP-1250 10 mg/kg", "Ribo 25 mg/kg", "Ribo 75 mg/kg", "OP-1250 1 mg/kg + Ribo 25 mg/kg", "OP-1250 1 mg/kg + Ribo 75 mg/kg", "OP-1250 10 mg/kg + Ribo 25 mg/kg", "OP-1250 10 mg/kg + Ribo 75 mg/kg"],
                               "range": ["#000000", "#5ec4c2", "#236b66", "#fdaa66", "#ff7c0b", "#f2a7b7", "#ea7892", "#a61d3b", "#6e1526"]},
                     "legend": {"orient": "none", "legendX": 56, "legendY": 22, "columns": 2, "columnPadding": 0, "rowPadding": 1, "title": null, "symbolType": "stroke", "symbolSize": 400, "symbolStrokeWidth": 4, "labelFontSize": 14.2, "labelOffset": 9}}}},
                {"mark": {"type": "point", "filled": false, "size": 40, "strokeWidth": 1.3, "opacity": 1},
                 "encoding": {
                   "color": {"field": "g", "type": "nominal", "legend": null,
                     "scale": {"domain": ["Vehicle", "OP-1250 1 mg/kg", "OP-1250 10 mg/kg", "Ribo 25 mg/kg", "Ribo 75 mg/kg", "OP-1250 1 mg/kg + Ribo 25 mg/kg", "OP-1250 1 mg/kg + Ribo 75 mg/kg", "OP-1250 10 mg/kg + Ribo 25 mg/kg", "OP-1250 10 mg/kg + Ribo 75 mg/kg"],
                               "range": ["#000000", "#5ec4c2", "#236b66", "#fdaa66", "#ff7c0b", "#f2a7b7", "#ea7892", "#a61d3b", "#6e1526"]}},
                   "shape": {"field": "g", "type": "nominal", "legend": null,
                   "scale": {"domain": ["Vehicle", "OP-1250 1 mg/kg", "OP-1250 10 mg/kg", "Ribo 25 mg/kg", "Ribo 75 mg/kg", "OP-1250 1 mg/kg + Ribo 25 mg/kg", "OP-1250 1 mg/kg + Ribo 75 mg/kg", "OP-1250 10 mg/kg + Ribo 25 mg/kg", "OP-1250 10 mg/kg + Ribo 75 mg/kg"],
                             "range": ["circle", "triangle-up", "M-1,0H1M0,-1V1", "M-0.8,-0.8L0.8,0.8M-0.8,0.8L0.8,-0.8", "diamond", "triangle-down", "square", "M-1,0H1M0,-1V1M-0.7,-0.7L0.7,0.7M-0.7,0.7L0.7,-0.7", "diamond"]}}}}
              ]
            }
          ]
        }
      ],
      "spacing": 99
    },
    {
      "resolve": {"scale": {"color": "independent"}, "legend": {"color": "independent"}},
      "title": {"text": ["Graph of change in tumor volume over time with listed treatments in the ESR1ʸ⁵³⁷ˢ ST941 patient-derived xenograft breast tumor model, with horizontal dotted line", "representing tumor stasis."], "anchor": "start", "fontSize": 27.4, "font": "Lato", "fontWeight": "normal", "color": "#000", "lineHeight": 31, "offset": 24},
      "hconcat": [
        {
          "width": 900, "height": 469,
          "layer": [
            {"data": {"name": "palboBars"}, "mark": {"type": "bar"},
             "encoding": {
               "x": {"field": "grp", "type": "nominal", "scale": {"paddingInner": 0.115, "paddingOuter": 0}, "axis": {"title": "Group", "labelAngle": 0, "labelFontSize": 16, "titlePadding": 4}},
               "xOffset": {"field": "k", "type": "nominal", "scale": {"paddingInner": 0.15, "paddingOuter": 0}},
               "y": {"field": "v", "type": "quantitative", "scale": {"domain": [-100, 2000], "nice": false, "zero": true}, "axis": {"values": [-100, 0, 100, 200, 300, 400, 500, 600, 700, 800, 900, 1000, 1100, 1200, 1300, 1400, 1500, 1600, 1700, 1800, 1900, 2000], "tickCount": 30, "labelOverlap": false, "format": "d", "title": "% Change in Tumor Volume"}},
               "color": {"field": "lab", "type": "nominal",
                 "scale": {"domain": ["1:Vehicle", "2: OP-1250 1 mg/kg", "3: OP-1250 10 mg/kg", "4:Palbo 25 mg/kg", "5:Palbo 75 mg/kg", "6: OP-1250 1 mg/kg + Palbo 25 mg/kg", "7: OP-1250 1 mg/kg + Palbo 75 mg/kg", "8: OP-1250 10 mg/kg + Palbo 25 mg/kg", "9: OP-1250 10 mg/kg + Palbo 75 mg/kg"],
                           "range": ["#000000", "#5fc3c2", "#236b67", "#7887bd", "#3c567e", "#f1a7b5", "#e97892", "#a51d3b", "#6c1526"]},
                 "legend": {"orient": "none", "legendX": 615, "legendY": 24, "title": null, "symbolType": "M-1.15,-0.96H1.15V0.96H-1.15Z", "symbolSize": 400, "symbolStrokeWidth": 0, "rowPadding": 0, "labelFontSize": 14, "labelOffset": 9}}
             }},
            {"data": {"values": [{}]}, "mark": {"type": "rule", "color": "#333", "strokeWidth": 2}, "encoding": {"y": {"datum": 0}}},
            {"data": {"values": [{}]}, "mark": {"type": "rule", "strokeDash": [4, 3], "strokeWidth": 2, "color": "#000"}, "encoding": {"y": {"datum": -50}}}
          ]
        },
        {
          "width": 900, "height": 469,
          "layer": [
            {"data": {"name": "riboBars"}, "mark": {"type": "bar"},
             "encoding": {
               "x": {"field": "grp", "type": "nominal", "scale": {"paddingInner": 0.115, "paddingOuter": 0}, "axis": {"title": "Group", "labelAngle": 0, "labelFontSize": 16, "titlePadding": 4}},
               "xOffset": {"field": "k", "type": "nominal", "scale": {"paddingInner": 0.15, "paddingOuter": 0}},
               "y": {"field": "v", "type": "quantitative", "scale": {"domain": [-100, 2000], "nice": false, "zero": true}, "axis": {"values": [-100, 0, 100, 200, 300, 400, 500, 600, 700, 800, 900, 1000, 1100, 1200, 1300, 1400, 1500, 1600, 1700, 1800, 1900, 2000], "tickCount": 30, "labelOverlap": false, "format": "d", "title": "% Change in Tumor Volume"}},
               "color": {"field": "lab", "type": "nominal",
                 "scale": {"domain": ["1:Vehicle", "2: OP-1250 1 mg/kg", "3: OP-1250 10 mg/kg", "4: Ribo 25 mg/kg", "5: Ribo 75 mg/kg", "6: OP-1250 1 mg/kg + Ribo 25 mg/kg", "7: OP-1250 1 mg/kg + Ribo 75 mg/kg", "8: OP-1250 10 mg/kg + Ribo 25 mg/kg", "9: OP-1250 10 mg/kg + Ribo 75 mg/kg"],
                           "range": ["#000000", "#5fc3c2", "#236b67", "#fdab67", "#fe7a0b", "#f1a7b5", "#e97892", "#a51d3b", "#6c1526"]},
                 "legend": {"orient": "none", "legendX": 621, "legendY": 24, "title": null, "symbolType": "M-1.15,-0.96H1.15V0.96H-1.15Z", "symbolSize": 400, "symbolStrokeWidth": 0, "rowPadding": 0, "labelFontSize": 14, "labelOffset": 9}}
             }},
            {"data": {"values": [{}]}, "mark": {"type": "rule", "color": "#333", "strokeWidth": 2}, "encoding": {"y": {"datum": 0}}},
            {"data": {"values": [{}]}, "mark": {"type": "rule", "strokeDash": [4, 3], "strokeWidth": 2, "color": "#000"}, "encoding": {"y": {"datum": -50}}}
          ]
        }
      ],
      "spacing": 99
    }
  ],
  "spacing": 4
}
